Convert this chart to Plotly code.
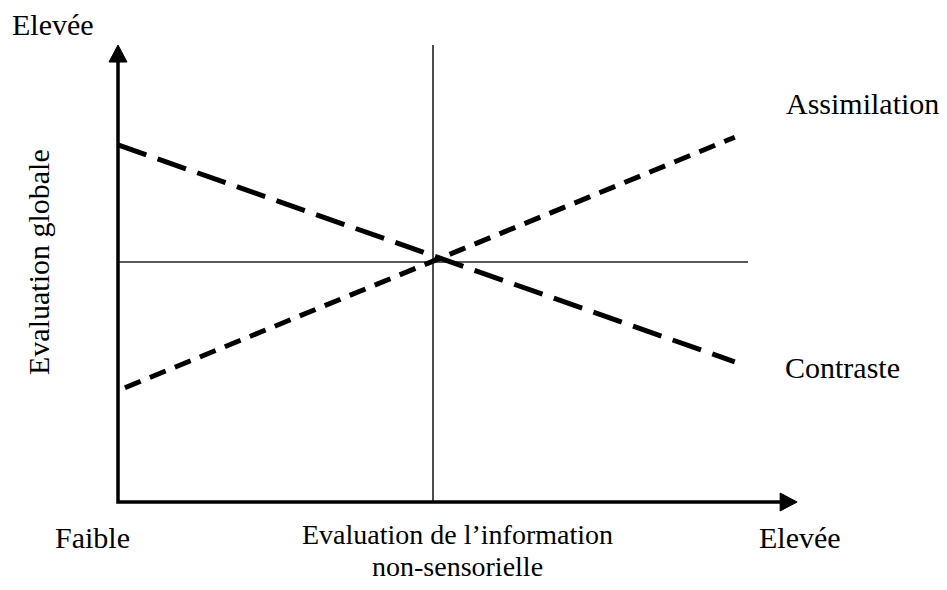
import plotly.graph_objects as go

# ---- data (abstract units: x 0..10, y 0..10, centre at 5) ----
assim_x = [0.11, 9.79]
assim_y = [2.38, 7.60]
contr_x = [0.0, 9.79]
contr_y = [7.44, 2.92]

centre = 5
axis_len_x = 10.0      # horizontal reference line end
arrow_tip_x = 10.78
arrow_tip_y = 9.52

series_labels = ["Assimilation", "Contraste"]
x_tick_labels = ["Faible", "Evaluation de l\u2019information", "non-sensorielle", "Elev\u00e9e"]
y_top_label = "Elev\u00e9e"
y_title = "Evaluation globale"

# pixel geometry helpers (page pixels; the figure div sits at an 8px body offset)
OFF = 8
PX_PER_X = 63.0
PX_PER_Y = 48.0
X0_PX = 118.0
Y0_PX = 502.0
W, H = 947 - 2 * OFF, 590 - 2 * OFF
def X(px):
    return (px - X0_PX) / PX_PER_X
def Y(py):
    return (Y0_PX - py) / PX_PER_Y

FONT = dict(family="Liberation Serif, Times New Roman, serif", size=30, color="black")

fig = go.Figure()

# reference cross lines
fig.add_trace(go.Scatter(x=[centre, centre], y=[0, arrow_tip_y], mode="lines",
                         line=dict(color="#222", width=1.6), hoverinfo="skip", showlegend=False))
fig.add_trace(go.Scatter(x=[0, axis_len_x], y=[centre, centre], mode="lines",
                         line=dict(color="#222", width=1.6), hoverinfo="skip", showlegend=False))

# series
fig.add_trace(go.Scatter(x=contr_x, y=contr_y, mode="lines", name=series_labels[1],
                         line=dict(color="black", width=5, dash="30px,12px"), showlegend=False))
fig.add_trace(go.Scatter(x=assim_x, y=assim_y, mode="lines", name=series_labels[0],
                         line=dict(color="black", width=5, dash="17px,10px"), showlegend=False))

# axes with arrows
ah_half_x = 9 / PX_PER_X
ah_half_y = 9 / PX_PER_Y
ah_len_y = 17 / PX_PER_Y
ah_len_x = 17 / PX_PER_X
fig.add_trace(go.Scatter(x=[0, 0, arrow_tip_x - ah_len_x], y=[arrow_tip_y - ah_len_y, 0, 0], mode="lines",
                         line=dict(color="black", width=3.5), hoverinfo="skip", showlegend=False))
fig.add_trace(go.Scatter(x=[-ah_half_x, ah_half_x, 0, -ah_half_x],
                         y=[arrow_tip_y - ah_len_y, arrow_tip_y - ah_len_y, arrow_tip_y, arrow_tip_y - ah_len_y],
                         mode="lines", fill="toself", fillcolor="black",
                         line=dict(color="black", width=1), hoverinfo="skip", showlegend=False))
fig.add_trace(go.Scatter(x=[arrow_tip_x - ah_len_x, arrow_tip_x - ah_len_x, arrow_tip_x, arrow_tip_x - ah_len_x],
                         y=[-ah_half_y, ah_half_y, 0, -ah_half_y],
                         mode="lines", fill="toself", fillcolor="black",
                         line=dict(color="black", width=1), hoverinfo="skip", showlegend=False))

def ann(text, px, py, size=30, **kw):
    fig.add_annotation(x=X(px), y=Y(py), xref="x", yref="y", text=text, showarrow=False,
                       font=dict(FONT, size=size), xanchor="center", yanchor="middle",
                       borderpad=0, **kw)

ann(y_top_label, 53, 24)
ann(x_tick_labels[0], 92, 537)
ann(x_tick_labels[1], 457, 534, size=28)
ann(x_tick_labels[2], 457, 566, size=28)
ann(x_tick_labels[3], 800, 537)
ann(series_labels[0], 862, 103)
ann(series_labels[1], 842, 367)
ann(y_title, 38, 262, textangle=-90)

fig.update_layout(
    width=W, height=H,
    margin=dict(l=0, r=0, t=0, b=0),
    paper_bgcolor="white", plot_bgcolor="white",
    xaxis=dict(range=[X(OFF), X(OFF + W)], visible=False, fixedrange=True),
    yaxis=dict(range=[Y(OFF + H), Y(OFF)], visible=False, fixedrange=True),
    showlegend=False,
)

fig.write_html("out.html")
